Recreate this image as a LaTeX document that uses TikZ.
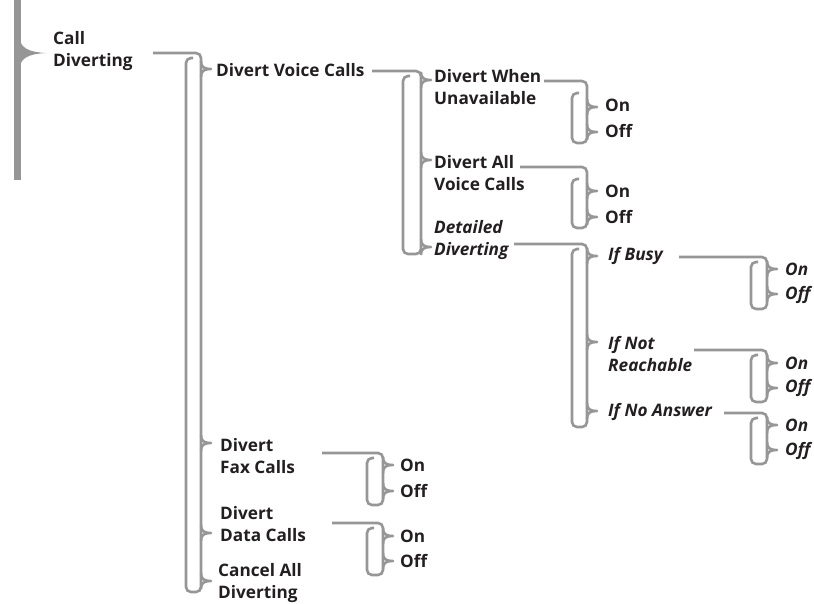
\documentclass[tikz,border=0pt]{standalone}
\usepackage{fontspec}
\setmainfont{Open Sans}[Ligatures=NoCommon]
\definecolor{brgray}{RGB}{150,150,150}
\definecolor{txt}{RGB}{35,31,32}
\tikzset{
  lbl/.style={anchor=west, inner sep=0pt, align=left, text=txt,
    font=\fontsize{17.2}{21.5}\selectfont\bfseries},
  ilbl/.style={lbl, font=\fontsize{17.2}{21.5}\selectfont\bfseries\itshape},
  br/.style={draw=brgray, line width=2.6pt, rounded corners=5pt},
  beak/.style={draw=brgray, line width=2.5pt, line join=round},
}
% \brk{startx}{top y}{left x}{right x}{bottom y}{left top y}
\newcommand\brk[6]{%
  \draw[br] (#1,#2) -| (#4,#5) -| (#3,#6) -- ({#3+7},#6);}
% \bk{right x}{y}
\newcommand\bk[2]{%
  \draw[beak] (#1,{#2-8}) .. controls (#1,{#2-2}) and ({#1+3},#2) .. ({#1+10},#2)
     .. controls ({#1+3},#2) and (#1,{#2+2}) .. (#1,{#2+8});}
\begin{document}
\begin{tikzpicture}[x=1pt,y=-1pt]
\useasboundingbox (0,0) rectangle (814,603);
% main left brace
\draw[draw=brgray, line width=7pt] (17,0) -- (17,180);
\fill[brgray] (19,34) .. controls (19,48) and (28,52) .. (46,53)
  .. controls (28,54) and (19,58) .. (19,72) -- cycle;
% labels
\node[lbl] (call) at (53,51) {Call\\Diverting};
\node[lbl] (voice) at (216,70) {Divert Voice Calls};
\node[lbl] (when) at (434,87) {Divert When\\Unavailable};
\node[lbl] (allv) at (434,173) {Divert All\\Voice Calls};
\node[ilbl] (det) at (434,240) {Detailed\\Diverting};
\node[lbl] (on1) at (605,105) {On};
\node[lbl] (off1) at (605,131) {Off};
\node[lbl] (on2) at (605,191) {On};
\node[lbl] (off2) at (605,217) {Off};
\node[ilbl] (busy) at (608,256) {If Busy};
\node[ilbl] (notr) at (608,354) {If Not\\Reachable};
\node[ilbl] (noans) at (608,412) {If No Answer};
\node[ilbl] (on3) at (785,269) {On};
\node[ilbl] (off3) at (785,295) {Off};
\node[ilbl] (on4) at (785,363) {On};
\node[ilbl] (off4) at (785,388) {Off};
\node[ilbl] (on5) at (785,425) {On};
\node[ilbl] (off5) at (785,451) {Off};
\node[lbl] (fax) at (220,456) {Divert\\Fax Calls};
\node[lbl] (data) at (220,524) {Divert\\Data Calls};
\node[lbl] (cancel) at (218,583) {Cancel All\\Diverting};
\node[lbl] (on6) at (400,465) {On};
\node[lbl] (off6) at (400,491) {Off};
\node[lbl] (on7) at (400,536) {On};
\node[lbl] (off7) at (400,561) {Off};
% brackets
\brk{153}{53}{186}{201}{592}{58}
\bk{201}{69}\bk{201}{443}\bk{201}{533}\bk{201}{581}
\brk{372}{71}{403}{421}{254}{76}
\bk{421}{80}\bk{421}{160}\bk{421}{247}
\brk{544}{81}{572}{587}{143}{93}
\bk{587}{107}\bk{587}{132}
\brk{520}{167}{572}{587}{228}{179}
\bk{587}{191}\bk{587}{217}
\brk{514}{244}{572}{587}{427}{249}
\bk{587}{256}\bk{587}{342}\bk{587}{411}
\brk{679}{257}{751}{767}{309}{262}
\bk{767}{269}\bk{767}{294}
\brk{694}{350}{751}{767}{402}{355}
\bk{767}{363}\bk{767}{388}
\brk{724}{413}{751}{767}{464}{418}
\bk{767}{425}\bk{767}{450}
\brk{322}{453}{367}{383}{505}{458}
\bk{383}{465}\bk{383}{491}
\brk{332}{523}{367}{383}{575}{528}
\bk{383}{536}\bk{383}{561}
\end{tikzpicture}
\end{document}
